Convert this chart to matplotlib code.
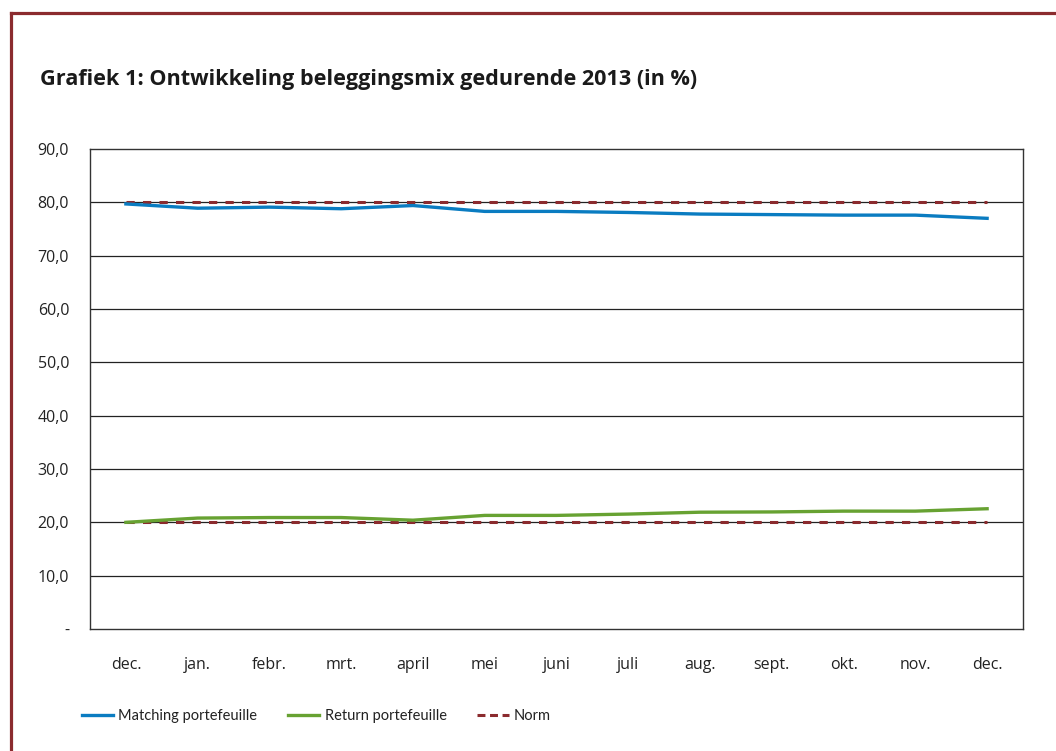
import matplotlib
matplotlib.use("Agg")
import matplotlib.pyplot as plt
from matplotlib.lines import Line2D

# Maandlabels (december 2012 t/m december 2013)
months = ["dec.", "jan.", "febr.", "mrt.", "april", "mei", "juni",
          "juli", "aug.", "sept.", "okt.", "nov.", "dec."]

# Aandeel in de beleggingsmix (in %)
matching = [79.7, 78.9, 79.1, 78.8, 79.4, 78.3, 78.3,
            78.1, 77.8, 77.7, 77.6, 77.6, 77.0]
returns = [20.0, 20.8, 20.9, 20.9, 20.4, 21.3, 21.3,
           21.55, 21.9, 21.95, 22.1, 22.1, 22.55]
norm_matching = [80.0] * 13
norm_return = [20.0] * 13

y_ticks = [0, 10, 20, 30, 40, 50, 60, 70, 80, 90]

BLUE = "#0A7CC1"
GREEN = "#67A232"
RED = "#8B2B2E"
FONT = "Open Sans"

fig = plt.figure(figsize=(10.56, 7.51), dpi=100)

# dark red frame (left and top edges)
fig.add_artist(Line2D([10.5 / 1056, 10.5 / 1056], [0, 1 - 13 / 751],
                      transform=fig.transFigure, color=RED, lw=2.3,
                      solid_capstyle="projecting"))
fig.add_artist(Line2D([10.5 / 1056, 1.0], [1 - 13 / 751, 1 - 13 / 751],
                      transform=fig.transFigure, color=RED, lw=2.3,
                      solid_capstyle="projecting"))

fig.text(40 / 1056, 1 - 80 / 751,
         "Grafiek 1: Ontwikkeling beleggingsmix gedurende 2013 (in %)",
         fontsize=15.6, fontweight="bold", family="Open Sans",
         color="#1a1a1a", va="center", ha="left")

ax = fig.add_axes([90 / 1056, 1 - 629 / 751, 933 / 1056, 480 / 751])

x = list(range(len(months)))
ax.set_xlim(-0.5, len(months) - 0.5)
ax.set_ylim(0, 90)

for v in y_ticks[1:-1]:
    ax.axhline(v, color="#222222", lw=0.9, zorder=1)

ax.plot(x, norm_matching, color=RED, lw=2.2, dashes=(2.7, 2.7), zorder=3)
ax.plot(x, norm_return, color=RED, lw=2.2, dashes=(2.7, 2.7), zorder=3)
ax.plot(x, matching, color=BLUE, lw=2.4, zorder=4)
ax.plot(x, returns, color=GREEN, lw=2.4, zorder=4)

for s in ax.spines.values():
    s.set_color("#333333")
    s.set_linewidth(1.0)

ax.set_yticks(y_ticks)
ax.set_yticklabels(["-" if v == 0 else f"{v:.1f}".replace(".", ",")
                    for v in y_ticks])
ax.set_xticks(x)
ax.set_xticklabels(months)
ax.tick_params(axis="y", length=0, pad=15, labelsize=11.5, labelcolor="#222222")
ax.tick_params(axis="x", length=0, pad=20, labelsize=11.5, labelcolor="#222222")
for lab in ax.get_xticklabels() + ax.get_yticklabels():
    lab.set_family(FONT)

handles = [
    Line2D([], [], color=BLUE, lw=2.4),
    Line2D([], [], color=GREEN, lw=2.4),
    Line2D([], [], color=RED, lw=2.2, dashes=(2.6, 1.5)),
]
labels = ["Matching portefeuille", "Return portefeuille", "Norm"]
fig.legend(handles, labels, loc="center left",
           bbox_to_anchor=(82 / 1056, 1 - 716 / 751), ncol=3, frameon=False,
           prop={"family": "Lato", "size": 10.5}, handlelength=2.15,
           handletextpad=0.35, columnspacing=2.1, borderpad=0,
           borderaxespad=0, labelcolor="#222222")

fig.savefig("out.png", dpi=100, facecolor="white")
